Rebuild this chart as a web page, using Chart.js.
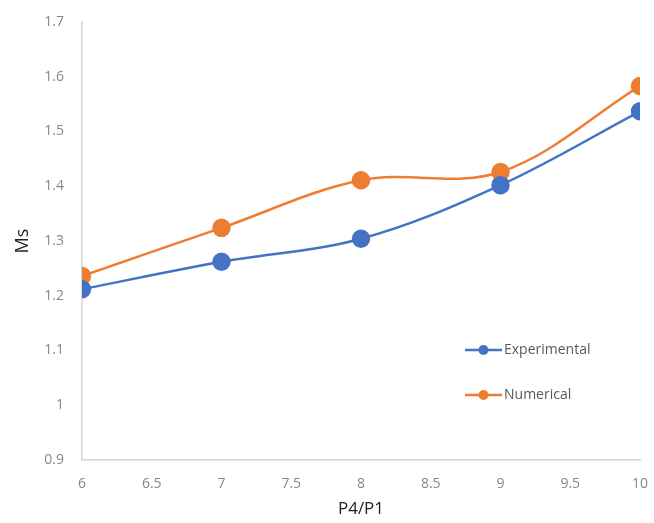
<!DOCTYPE html>
<html><head><meta charset="utf-8">
<script src="https://cdn.jsdelivr.net/npm/chart.js@4"></script>
<style>html,body{margin:0;padding:0;background:#fff}#wrap{width:654px;height:523px}</style>
</head><body><div id="wrap"><canvas id="c" width="654" height="523"></canvas></div>
<script>
const xValues = [6, 7, 8, 9, 10];
const experimental = [1.212, 1.262, 1.304, 1.402, 1.537];
const numerical = [1.236, 1.324, 1.411, 1.426, 1.583];
const seriesNames = ['Experimental', 'Numerical'];
const xTitle = 'P4/P1';
const yTitle = 'Ms';

const blue = '#4472C4', orange = '#ED7D31';
const pts = (ys) => xValues.map((x, i) => ({x, y: ys[i]}));
const FONT = '"Open Sans", "DejaVu Sans", sans-serif';

const legendPlugin = {
  id: 'insideLegend',
  afterDraw(chart) {
    const ctx = chart.ctx;
    const items = chart.data.datasets;
    const x0 = 465, ys = [350, 395];
    items.forEach((ds, i) => {
      const y = ys[i];
      ctx.save();
      ctx.strokeStyle = ds.borderColor; ctx.lineWidth = 2.5;
      ctx.beginPath(); ctx.moveTo(x0, y); ctx.lineTo(x0 + 37, y); ctx.stroke();
      ctx.fillStyle = ds.borderColor;
      ctx.beginPath(); ctx.arc(x0 + 18.5, y, 5, 0, Math.PI * 2); ctx.fill();
      ctx.fillStyle = '#595959';
      ctx.font = '14px ' + FONT;
      ctx.textBaseline = 'middle'; ctx.textAlign = 'left';
      ctx.fillText(ds.label, x0 + 39, y);
      ctx.restore();
    });
  }
};

new Chart(document.getElementById('c'), {
  type: 'line',
  data: {
    datasets: [
      {label: seriesNames[0], data: pts(experimental), borderColor: blue, backgroundColor: blue,
       borderWidth: 2.5, pointRadius: 8, pointHoverRadius: 8, tension: 0.35, fill: false},
      {label: seriesNames[1], data: pts(numerical), borderColor: orange, backgroundColor: orange,
       borderWidth: 2.5, pointRadius: 8, pointHoverRadius: 8, tension: 0.35, fill: false}
    ]
  },
  options: {
    responsive: false, animation: false,
    layout: {padding: {left: 0, right: 14, top: 22, bottom: 0}},
    plugins: {legend: {display: false}, tooltip: {enabled: false}},
    scales: {
      x: {
        type: 'linear', min: 6, max: 10,
        ticks: {stepSize: 0.5, color: '#888', font: {size: 14, family: FONT}, padding: 16,
                callback: v => String(v)},
        grid: {display: false, drawTicks: false},
        border: {display: true, color: '#d6d6d6', width: 1.5},
        title: {display: true, text: xTitle, color: '#222', font: {size: 17, family: FONT}, padding: {top: 3}},
        afterFit(s) { s.height = 63; s.paddingLeft = 0; s.paddingRight = 0; }
      },
      y: {
        min: 0.9, max: 1.7,
        ticks: {stepSize: 0.1, color: '#888', font: {size: 14, family: FONT}, padding: 18,
                callback: v => String(Math.round(v * 10) / 10)},
        grid: {display: false, drawTicks: false},
        border: {display: true, color: '#d6d6d6', width: 1.5},
        title: {display: true, text: yTitle, color: '#222', font: {size: 18, family: FONT}, padding: {top: 12, bottom: 2}},
        afterFit(s) { s.width = 82; s.paddingTop = 0; s.paddingBottom = 0; }
      }
    }
  },
  plugins: [legendPlugin]
});
</script></body></html>
